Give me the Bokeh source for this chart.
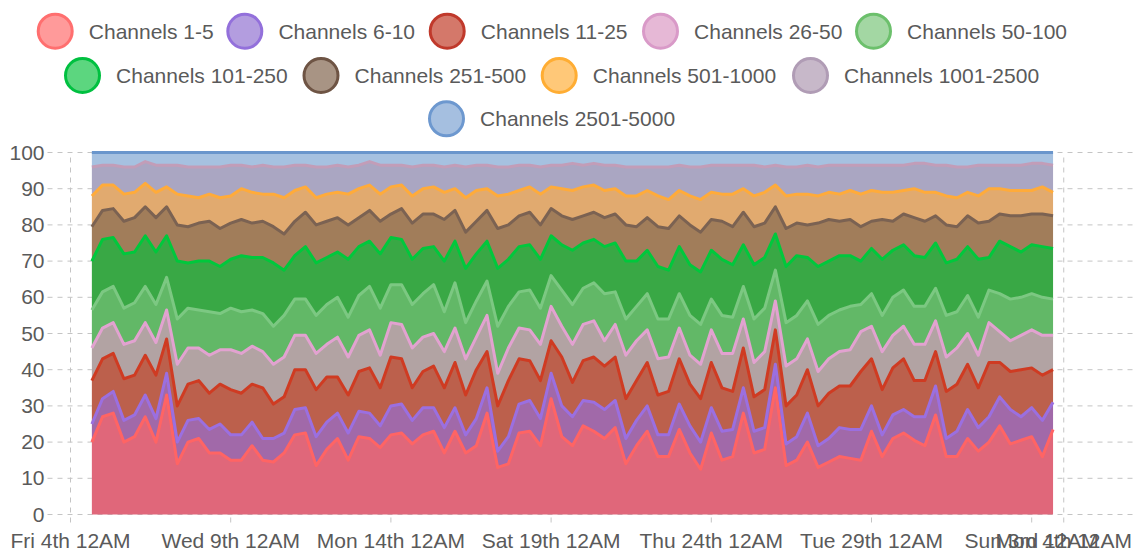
import numpy as np
import pandas as pd
from bokeh.plotting import figure
from bokeh.models import ColumnDataSource, Range1d, FixedTicker
from bokeh.core.properties import value
from bokeh.transform import stack
from bokeh.embed import file_html
from bokeh.resources import INLINE

# ---------------- data ----------------
series_names = ["Channels 1-5", "Channels 6-10", "Channels 11-25", "Channels 26-50",
                "Channels 50-100", "Channels 101-250", "Channels 251-500",
                "Channels 501-1000", "Channels 1001-2500", "Channels 2501-5000"]

# samples every 8 hours, Fri May 4 4PM .. Sun Jun 3 4PM
times = pd.date_range("2018-05-04 16:00", "2018-06-03 16:00", freq="8h")

tick_dates = ["2018-05-04", "2018-05-09", "2018-05-14", "2018-05-19",
              "2018-05-24", "2018-05-29", "2018-06-03", "2018-06-04"]
tick_labels = ["Fri 4th 12AM", "Wed 9th 12AM", "Mon 14th 12AM", "Sat 19th 12AM",
               "Thu 24th 12AM", "Tue 29th 12AM", "Sun 3rd 12AM", "Mon 4th 12AM"]
y_ticks = [0, 10, 20, 30, 40, 50, 60, 70, 80, 90, 100]

# upper edge (cumulative %) of each band
top_ch_1_5 = [20, 27, 28, 20, 21.5, 27, 20, 33, 14, 20, 21, 17, 17, 15, 15, 19, 15, 14.5, 17, 22, 22.5,
              13.5, 18, 21, 15, 21.5, 21, 18.5, 22, 22.5, 19.5, 22, 23, 17, 23, 17, 19, 28, 13, 14, 22.5, 23, 19, 32,
              21.5, 19, 24.5, 23, 21, 24, 14, 19, 23, 16, 16, 23.5, 17, 12.5, 22.5, 15, 16, 28, 17, 18, 35, 13.5,
              15, 20, 13, 14.5, 16, 15.5, 15, 23, 16, 21, 22.5, 20.5, 19, 27.5, 16, 16, 21, 17.5, 20, 24.5, 19.5, 20.5, 21.5, 16, 23.5]
top_ch_6_10 = [25, 32, 34, 26, 27.5, 33, 26.5, 39, 20, 26, 26.5, 23.5, 25, 22, 22, 25.5, 21, 21, 22.5, 29, 29.5,
               21.5, 25.5, 28, 22.5, 28.5, 28, 24.5, 30, 30.5, 26, 29.5, 29.5, 24, 29.5, 22, 26.5, 35, 17.5, 21.5, 30.5, 31.5, 26.5, 39,
               30, 27, 31.5, 31, 29, 31.5, 21, 26, 30, 22, 22, 30.5, 24.5, 20, 29.5, 23, 23.5, 35, 23, 24, 41.5, 19.5,
               21.5, 28, 19, 21, 24, 23.5, 23.5, 30, 22, 27.5, 29, 27, 27, 35.5, 21, 23, 29, 24, 27, 32.5, 29, 27, 29.5, 26, 31]
top_ch_11_25 = [37, 43, 44.5, 37.5, 38.5, 44, 38.5, 48.5, 30, 36, 37, 33.5, 36, 34.5, 33.5, 36, 35, 30.5, 32.5, 40, 40,
                34.5, 38, 38, 33, 39.5, 40.5, 35, 43.5, 43, 35, 39.5, 41, 35, 42, 33, 40, 45, 30, 37, 43, 42.5, 37, 48,
                43.5, 36.5, 42.5, 43.5, 41, 43.5, 32, 37, 42, 33, 34, 43, 36, 32, 42, 35, 34, 46, 32.5, 34.5, 51, 30,
                33, 40, 30, 33.5, 35.5, 35.5, 39.5, 43, 34.5, 40.5, 43, 37, 37, 45, 34, 36, 41.5, 35, 42, 42, 39.5, 40, 40.5, 38.5, 40]
top_ch_26_50 = [46, 51.5, 53, 47, 48, 53, 47.5, 56.5, 41.5, 46, 46, 44, 45.5, 45.5, 44.5, 46.5, 45, 41.5, 43.5, 49.5, 49.5,
                44.5, 47, 49, 43.5, 49.5, 51, 44, 53, 52.5, 46, 49, 50, 45, 51.5, 43, 49, 55, 39, 46, 51.5, 51, 47, 57.5,
                52, 47, 52.5, 53.5, 48, 52.5, 44, 48, 51, 43, 43.5, 51.5, 44, 41.5, 51, 44.5, 44.5, 54, 42, 45, 59, 41,
                43, 48.5, 39.5, 43, 45, 45.5, 50.5, 52, 45, 49.5, 52, 47, 47, 53.5, 43.5, 46, 50, 44, 53, 50.5, 48, 49.5, 51, 49.5, 49.5]
top_ch_50_100 = [56.5, 61.5, 63, 57, 58.5, 63, 58, 65.5, 54, 57, 56.5, 56, 55.5, 57, 56, 56.5, 55.5, 52, 55, 59.5, 59.5,
                 55, 58, 60, 54.5, 60.5, 63, 57, 63.5, 63.5, 58, 61, 63.5, 56, 64, 53, 59, 64.5, 52, 57.5, 61.5, 62, 57, 66,
                 62, 58, 62.5, 64, 61, 61.5, 54, 57.5, 61, 54, 54, 61, 55, 52.5, 59.5, 55, 54.5, 63, 54, 57, 67.5, 53,
                 55, 59, 52.5, 55, 56.5, 57.5, 58, 61, 55, 60, 62, 57.5, 57.5, 62.5, 55, 56, 60.5, 54.5, 62, 61, 59.5, 60, 61, 60, 59.5]
top_ch_101_250 = [70, 76, 76.5, 72, 72.5, 77, 72.5, 77, 70, 69.5, 70, 70, 68.5, 70.5, 71.5, 71, 71, 69.5, 67.5, 71.5, 74,
                  69.5, 71, 72.5, 70.5, 74, 75.5, 72, 76.5, 76, 70.5, 73.5, 74, 70, 75.5, 68, 72, 75.5, 68, 70.5, 74, 74.5, 70.5, 77,
                  74.5, 73, 75, 76, 74, 75, 70, 70, 73, 68.5, 67.5, 74, 69, 67, 73, 70.5, 69, 74.5, 69, 71, 77.5, 68.5,
                  71.5, 71, 68.5, 70, 71.5, 71.5, 70, 73.5, 70.5, 73, 74.5, 71.5, 71, 75, 69.5, 70.5, 74, 70.5, 71, 75.5, 74, 72.5, 74.5, 74, 73.5]
top_ch_251_500 = [79.5, 84, 84.5, 81, 82, 85, 82, 85, 80, 79.5, 80.5, 81, 79, 80.5, 81.5, 80.5, 81, 79.5, 77.5, 81, 83.5,
                  80, 81, 82, 80, 82, 84, 81, 83, 84.5, 80.5, 83, 83, 81.5, 84, 78, 81, 84, 79, 80, 82.5, 83.5, 80, 84.5,
                  82.5, 81.5, 82.5, 83.5, 82, 83, 80, 79.5, 82, 79.5, 79, 82.5, 80, 78, 81.5, 81, 79.5, 83.5, 79.5, 80.5, 85, 79,
                  80.5, 80, 80.5, 81.5, 81, 81.5, 79.5, 81, 81.5, 81, 83, 82, 81, 82.5, 80, 79.5, 82.5, 80.5, 81, 83, 82.5, 82.5, 83, 83, 82.5]
top_ch_501_1000 = [88, 91, 91, 88.5, 89, 91.5, 89, 90.5, 88.5, 88, 87.5, 88.5, 87.5, 88, 90, 89, 88.5, 88.5, 87.5, 89.5, 90.5,
                   87.5, 88.5, 89, 88.5, 90, 91, 88.5, 90.5, 91, 88, 90, 90.5, 89, 90, 87.5, 89.5, 90, 88, 88.5, 89.5, 90.5, 88.5, 90.5,
                   90, 89.5, 90.5, 91, 89.5, 90, 88, 88, 89.5, 88, 87, 89.5, 88, 87, 89, 88.5, 88.5, 90, 88, 89, 91, 88,
                   88.5, 88.5, 88, 89, 88.5, 89.5, 88.5, 89.5, 89, 89, 89.5, 90, 89, 89, 88, 87.5, 89, 88, 90, 90, 89.5, 89.5, 89.5, 90.5, 89]
top_ch_1001_2500 = [96, 96.5, 96.5, 96, 96, 97.5, 96.5, 96.5, 96.5, 96, 96, 96, 96, 96.5, 96.5, 96, 96.5, 96, 96, 96.5, 96.5,
                    96, 96, 96.5, 96, 96.5, 97.5, 96.5, 96.5, 96.5, 96, 96.5, 96.5, 96, 96.5, 96, 96.5, 96.5, 96, 96, 96.5, 96.5, 96, 96.5,
                    96.5, 97, 96.5, 97, 96.5, 96.5, 96, 96, 96, 96, 96, 96.5, 96, 96, 96.5, 96.5, 96.5, 96.5, 96.5, 96, 96.5, 96,
                    96, 96.5, 96, 96.5, 96.5, 96.5, 96.5, 96.5, 96.5, 96.5, 96.5, 97, 97, 96.5, 96.5, 96, 96, 96.5, 96.5, 96.5, 96.5, 96.5, 97, 97, 96.5]

# ---------------- styling ----------------
area_colors = ["#e0677a", "#a169a9", "#bc604c", "#b2a3a3", "#62b867",
               "#39a845", "#a17d5a", "#e1aa6f", "#aaa6c2", "#a6c1e0"]
line_colors = ["#ff6464", "#9b6fe0", "#cf3b22", "#e2a2d0", "#7cc882",
               "#00c83c", "#7b6252", "#ffab3a", "#c29db8", "#6a96cc"]
legend_fill = ["#ff9a9a", "#b39ddf", "#d4786a", "#e6b8d6", "#a3d7a3",
               "#5cd67f", "#a89484", "#ffc878", "#c7b8c9", "#a5bfe0"]
legend_line = ["#ff6f6f", "#9370db", "#c0392b", "#d99ac8", "#6cc06c",
               "#00c040", "#6e5444", "#ffad33", "#b09cb5", "#6d98cf"]
FONT = "Liberation Sans"
FSIZE = "21px"
TXT = "#5a5a5a"
GRID = "#c4c4c4"

# layout in pixels (frame covers the whole page width, legend sits above 100%)
FRAME_W, FRAME_H, BOTTOM = 1135, 525, 26
ZERO_PX = 514             # page y of the 0 line
ORIGIN_PX = 70            # page x of "Fri 4th 12AM"
PX_PER_DAY = 32.04
PX_PER_PCT = 3.62         # vertical scale of the 0-100 value band
X0 = -ORIGIN_PX / PX_PER_DAY
X1 = X0 + FRAME_W / PX_PER_DAY
Y0 = -(FRAME_H - ZERO_PX) / PX_PER_PCT
Y1 = ZERO_PX / PX_PER_PCT
GRID_START_PX = 47        # horizontal dashed lines start just right of the labels
YLABEL_RIGHT_PX = 44
VTICK_BOTTOM_PX = 522     # vertical dashed lines run a little below the 0 line

# legend circle centres (page pixels) of the three centred rows
leg_cx = [54.7, 244.3, 446.7, 660, 873, 82, 320.5, 558.7, 810, 446]
leg_cy = [30.7] * 5 + [75] * 4 + [118.3]
TEXT_GAP = 33.6


def px_to_x(px):
    return X0 + px / PX_PER_DAY


def py_to_y(py):
    return (ZERO_PX - py) / PX_PER_PCT


# ---------------- derived ----------------
tops = [top_ch_1_5, top_ch_6_10, top_ch_11_25, top_ch_26_50, top_ch_50_100,
        top_ch_101_250, top_ch_251_500, top_ch_501_1000, top_ch_1001_2500]
n = len(times)
for t in tops:
    assert len(t) == n, len(t)
bounds = np.vstack([np.zeros(n), np.array(tops, dtype=float), np.full(n, 100.0)])
shares = np.diff(bounds, axis=0)

origin = pd.Timestamp(tick_dates[0])
x_days = ((times - origin) / pd.Timedelta(days=1)).to_numpy()
tick_days = [int(round((pd.Timestamp(d) - origin) / pd.Timedelta(days=1))) for d in tick_dates]

keys = ["s%d" % i for i in range(len(series_names))]
data = {"x": x_days}
for k, s in zip(keys, shares):
    data[k] = s
src = ColumnDataSource(data)

# ---------------- figure ----------------
p = figure(frame_width=FRAME_W, frame_height=FRAME_H,
           x_range=Range1d(X0, X1), y_range=Range1d(Y0, Y1),
           toolbar_location=None, output_backend="svg", y_axis_location=None,
           min_border_left=0, min_border_right=0, min_border_top=0,
           min_border_bottom=BOTTOM, outline_line_color=None)
p.grid.visible = False

# dashed grid lines (vertical over the value band, horizontal at each y tick)
vg = ColumnDataSource(dict(x=tick_days, y0=[py_to_y(VTICK_BOTTOM_PX)] * len(tick_days),
                           y1=[y_ticks[-1]] * len(tick_days)))
p.segment(x0="x", y0="y0", x1="x", y1="y1", source=vg, line_color=GRID,
          line_dash="5 5", line_width=1)
hg = ColumnDataSource(dict(y=y_ticks, x0=[px_to_x(GRID_START_PX)] * len(y_ticks),
                           x1=[X1] * len(y_ticks),
                           lx=[px_to_x(YLABEL_RIGHT_PX)] * len(y_ticks),
                           label=[str(v) for v in y_ticks]))
p.segment(x0="x0", y0="y", x1="x1", y1="y", source=hg, line_color=GRID,
          line_dash="5 5", line_width=1)

# stacked (expanded) areas and their top edges
p.varea_stack(stackers=keys, x="x", color=area_colors, source=src)
for i in range(len(keys)):
    p.line(x="x", y=stack(*keys[:i + 1]), source=src, line_color=line_colors[i],
           line_width=3, line_join="round")

# y tick labels
p.text(x="lx", y="y", text="label", source=hg, text_font=value(FONT),
       text_font_size=FSIZE, text_color=TXT, text_baseline="middle", text_align="right")

# legend
leg_src = ColumnDataSource(dict(
    x=[px_to_x(c) for c in leg_cx], y=[py_to_y(c) for c in leg_cy],
    tx=[px_to_x(c + TEXT_GAP) for c in leg_cx], name=series_names,
    fill=legend_fill, line=legend_line))
p.scatter(x="x", y="y", size=34, fill_color="fill", line_color="line",
          line_width=3, source=leg_src)
p.text(x="tx", y="y", text="name", source=leg_src, text_font=value(FONT),
       text_font_size=FSIZE, text_color=TXT, text_baseline="middle", text_align="left")

# x axis
xa = p.xaxis[0]
xa.ticker = FixedTicker(ticks=tick_days)
xa.major_label_overrides = {d: lab for d, lab in zip(tick_days, tick_labels)}
xa.axis_line_color = None
xa.major_label_text_font = FONT
xa.major_label_text_font_size = FSIZE
xa.major_label_text_color = TXT
xa.major_tick_in = 0
xa.major_tick_out = 0
xa.major_tick_line_color = None
xa.minor_tick_line_color = None
xa.major_label_standoff = 3

open("out.html", "w").write(file_html(p, INLINE))
